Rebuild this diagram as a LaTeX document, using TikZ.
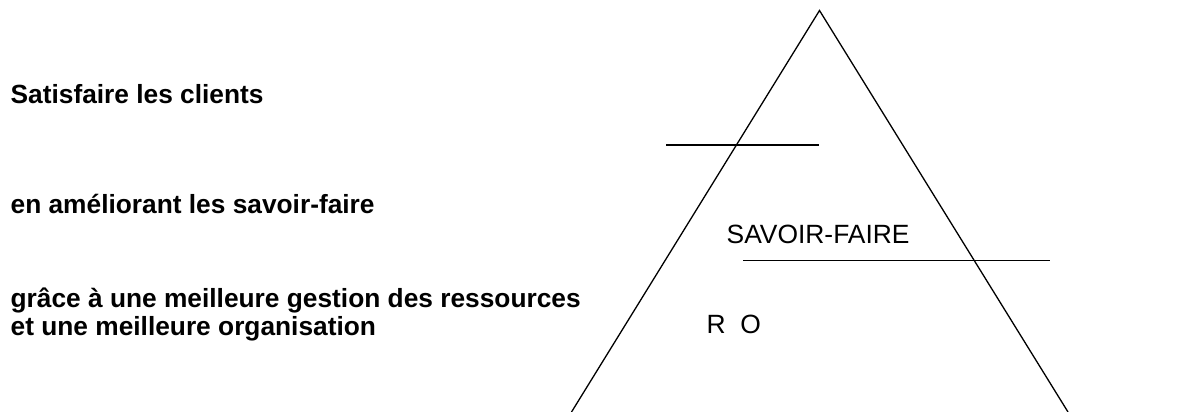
\documentclass[tikz,border=0pt]{standalone}
\usepackage{fontspec}
\setmainfont{Liberation Sans}
\begin{document}
\begin{tikzpicture}[x=1pt, y=-1pt, line width=1.3pt,
    goal/.style={anchor=base west, inner sep=0pt, align=left,
        font=\fontsize{26.3}{28.5}\selectfont\bfseries},
    layer/.style={anchor=base west, inner sep=0pt,
        font=\fontsize{26.4}{28}\selectfont}]
    \useasboundingbox (0,0) rectangle (1202,412);

    % Goals on the left
    \node[goal] (clients) at (10,103.5) {Satisfaire les clients};
    \node[goal] (savoir) at (10,213.5) {en améliorant les savoir-faire};
    \node[goal] (gestion) at (10,335.5) {grâce à une meilleure gestion des ressources\\et une meilleure organisation};

    % Pyramid
    \draw (571.5,412) -- (819.5,10.5) -- (1068,412);

    % Layer lines
    \draw (666,145) -- (819,145);
    \draw (743,260.5) -- (1050,260.5);

    % Layer labels
    \node[layer] (sf) at (726,243) {SAVOIR-FAIRE};
    \node[layer] (ro) at (706,333) {R\ \ O};
\end{tikzpicture}
\end{document}
